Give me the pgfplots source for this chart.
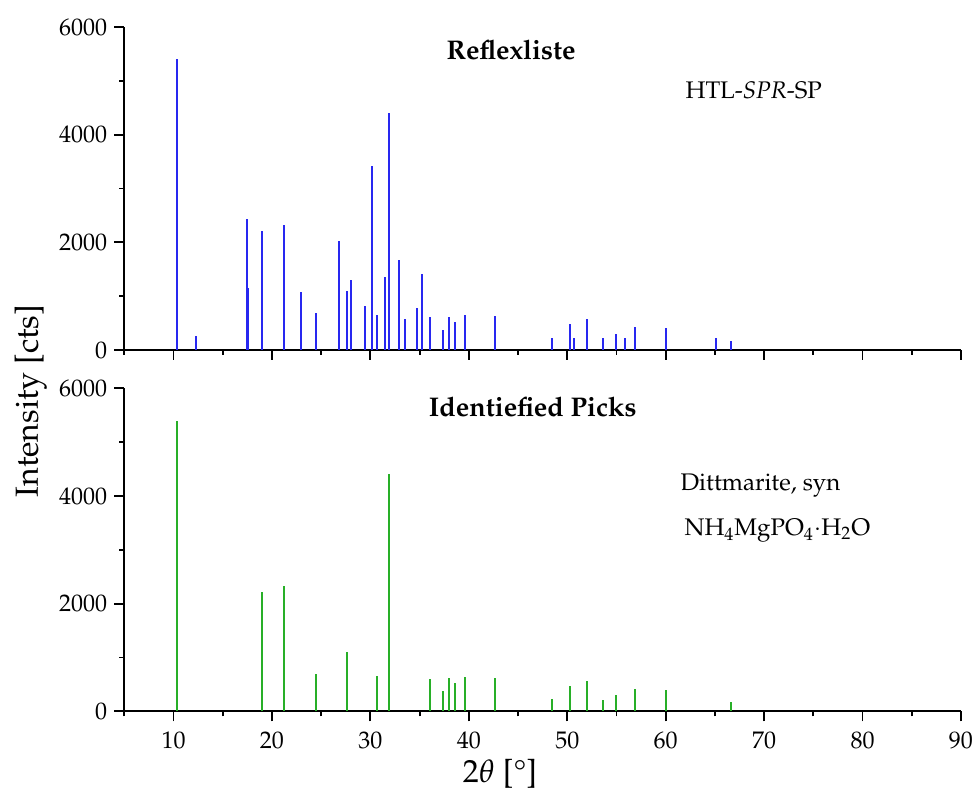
\documentclass[border=0pt]{standalone}
\usepackage[T1]{fontenc}
\usepackage{mathpazo}
\usepackage{textcomp}
\usepackage{pgfplots}
\pgfplotsset{compat=1.18}

\definecolor{stickblue}{RGB}{40,40,240}
\definecolor{stickgreen}{RGB}{40,175,40}

% 1 px of the reference = 0.5pt
\pgfplotsset{
  xrd/.style={
    scale only axis,
    width=418.35pt,
    height=161.5pt,
    xmin=5, xmax=90,
    ymin=0, ymax=6000,
    axis x line=bottom,
    axis y line=left,
    axis line style={-, line width=0.9pt},
    tick align=outside,
    major tick length=5pt,
    minor tick length=2.5pt,
    tick style={line width=0.9pt, black},
    xtick={10,20,...,90},
    ytick={0,2000,4000,6000},
    minor xtick={5,15,...,85},
    minor ytick={1000,3000,5000},
    ticklabel style={font=\fontsize{12}{14}\selectfont},
    xticklabel shift=2pt,
    /pgf/number format/assume math mode=true,
    /pgf/number format/1000 sep={},
    clip=false,
  },
}

\begin{document}
\begin{tikzpicture}
\begin{axis}[xrd, name=top, at={(0pt,0pt)}, anchor=north west, xticklabels={}]
\addplot[ycomb, stickblue, line width=1pt, mark=none] coordinates {
  (10.31,5400) (12.24,260) (17.50,2430) (17.55,1160) (18.95,2215)
  (21.22,2320) (22.92,1076) (24.47,687) (26.81,2017) (27.66,1101)
  (28.07,1299) (29.49,823) (30.17,3421) (30.71,656) (31.46,1361)
  (31.93,4404) (32.95,1664) (33.56,581) (34.78,779) (35.25,1404)
  (36.03,612) (37.42,377) (38.03,619) (38.61,526) (39.63,656)
  (42.71,631) (48.47,229) (50.24,483) (50.65,223) (52.04,569)
  (53.61,217) (54.93,303) (55.88,217) (56.90,421) (60.07,402)
  (65.07,223) (66.63,167)
};
\node[font=\fontsize{13.5}{15}\selectfont\bfseries] at (axis cs:44.3,5573) {Reflexliste};
\node[anchor=west, font=\fontsize{12}{14}\selectfont] at (axis cs:61.3,4830) {HTL-\textit{SPR}-SP};
\end{axis}

\begin{axis}[xrd, at={(top.south west)}, anchor=north west, yshift=-19.15pt,
  xlabel={2$\theta$ [\textdegree]},
  xlabel style={font=\fontsize{16}{18}\selectfont,
    at={(axis description cs:0.449,0)}, anchor=base, yshift=-35.5pt},
]
\addplot[ycomb, stickgreen, line width=1pt, mark=none] coordinates {
  (10.31,5393) (18.95,2217) (21.22,2322) (24.47,687) (27.66,1102)
  (30.71,656) (31.93,4409) (36.03,601) (37.42,378) (38.03,619)
  (38.61,520) (39.63,644) (42.71,625) (48.47,229) (50.24,477)
  (52.04,563) (53.61,210) (54.93,303) (56.90,415) (60.07,396)
  (66.63,173)
};
\node[font=\fontsize{13.5}{15}\selectfont\bfseries] at (axis cs:46.5,5653) {Identiefied Picks};
\node[anchor=west, font=\fontsize{12}{14}\selectfont] at (axis cs:60.8,4185) {Dittmarite, syn};
\node[anchor=west, font=\fontsize{12}{14}\selectfont] at (axis cs:61.2,3350) {NH$_4$MgPO$_4$$\cdot$H$_2$O};
\end{axis}

\node[rotate=90, anchor=base, font=\fontsize{16}{18}\selectfont] at ([xshift=-43.15pt, yshift=-25.5pt]top.south west) {Intensity [cts]};

\pgfresetboundingbox
\useasboundingbox (-62.15pt,13.5pt) rectangle (425.85pt,-381.5pt);
\end{tikzpicture}
\end{document}
